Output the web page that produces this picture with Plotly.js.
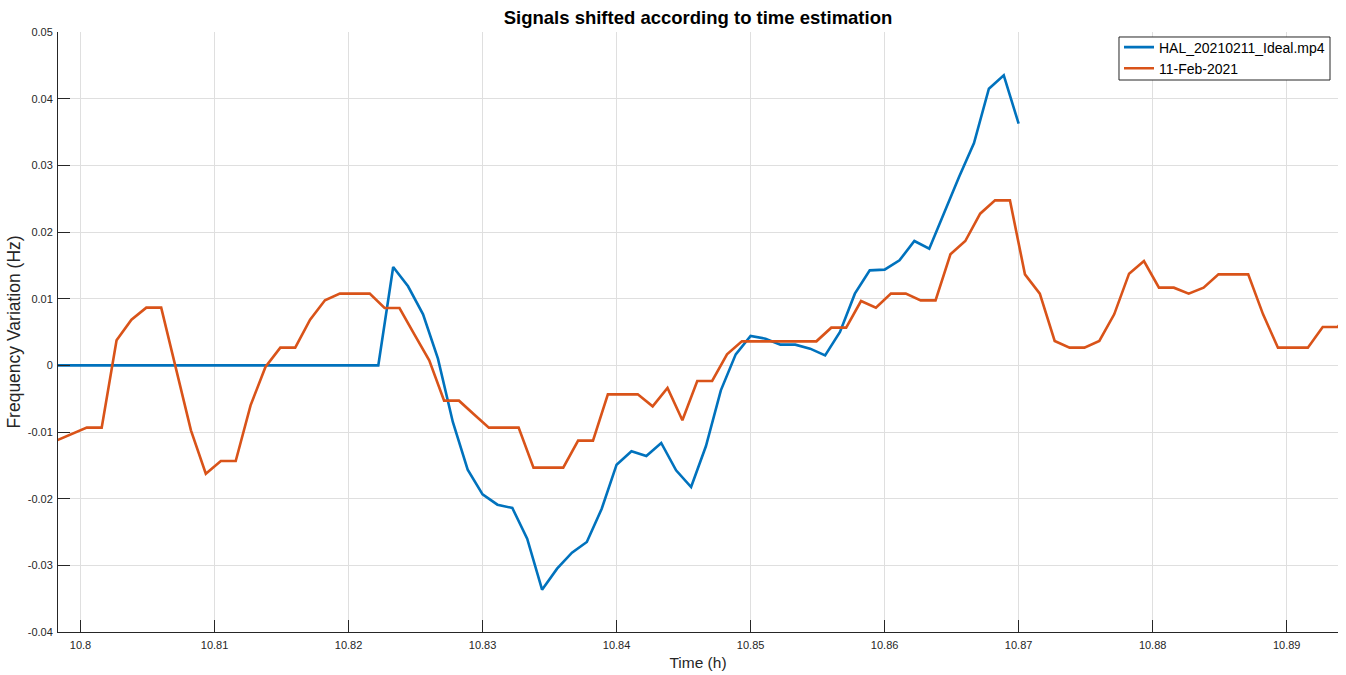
<!DOCTYPE html>
<html>
<head>
<meta charset="utf-8">
<script src="https://cdn.plot.ly/plotly-3.0.1.min.js"></script>
<style>
  html, body { margin: 0; padding: 0; background: #ffffff; }
  #chart { width: 1346px; height: 675px; }
</style>
</head>
<body>
<div id="chart"></div>
<script>
// Video-derived frequency estimate (HAL_20210211_Ideal.mp4), sampled every 4 s
const videoTime = [
  10.79778, 10.79889, 10.80000, 10.80111, 10.80222, 10.80333, 10.80444, 10.80556, 10.80667, 10.80778,
  10.80889, 10.81000, 10.81111, 10.81222, 10.81333, 10.81444, 10.81556, 10.81667, 10.81778, 10.81889,
  10.82000, 10.82111, 10.82222, 10.82333, 10.82444, 10.82556, 10.82667, 10.82778, 10.82889, 10.83000,
  10.83111, 10.83222, 10.83333, 10.83444, 10.83556, 10.83667, 10.83778, 10.83889, 10.84000, 10.84111,
  10.84222, 10.84333, 10.84444, 10.84556, 10.84667, 10.84778, 10.84889, 10.85000, 10.85111, 10.85222,
  10.85333, 10.85444, 10.85556, 10.85667, 10.85778, 10.85889, 10.86000, 10.86111, 10.86222, 10.86333,
  10.86444, 10.86556, 10.86667, 10.86778, 10.86889, 10.87000
];
const videoFreq = [
  0, 0, 0, 0, 0, 0, 0, 0, 0, 0,
  0, 0, 0, 0, 0, 0, 0, 0, 0, 0,
  0, 0, 0, 0.01475, 0.01185, 0.00765, 0.00100, -0.00850, -0.01565, -0.01935,
  -0.02090, -0.02140, -0.02600, -0.03365, -0.03050, -0.02810, -0.02650, -0.02150, -0.01490, -0.01290,
  -0.01360, -0.01165, -0.01575, -0.01825, -0.01210, -0.00375, 0.00165, 0.00440, 0.00400, 0.00310,
  0.00310, 0.00250, 0.00150, 0.00500, 0.01075, 0.01425, 0.01435, 0.01575, 0.01865, 0.01750,
  0.02290, 0.02830, 0.03335, 0.04150, 0.04350, 0.03625
];

// Grid reference measurement (11-Feb-2021), sampled every 4 s
const gridTime = [
  10.79824, 10.79935, 10.80047, 10.80158, 10.80269, 10.80380, 10.80491, 10.80602, 10.80713, 10.80824,
  10.80935, 10.81047, 10.81158, 10.81269, 10.81380, 10.81491, 10.81602, 10.81713, 10.81824, 10.81935,
  10.82047, 10.82158, 10.82269, 10.82380, 10.82491, 10.82602, 10.82713, 10.82824, 10.82935, 10.83047,
  10.83158, 10.83269, 10.83380, 10.83491, 10.83602, 10.83713, 10.83824, 10.83935, 10.84047, 10.84158,
  10.84269, 10.84380, 10.84491, 10.84602, 10.84713, 10.84824, 10.84935, 10.85047, 10.85158, 10.85269,
  10.85380, 10.85491, 10.85602, 10.85713, 10.85824, 10.85935, 10.86047, 10.86158, 10.86269, 10.86380,
  10.86491, 10.86602, 10.86713, 10.86824, 10.86935, 10.87047, 10.87158, 10.87269, 10.87380, 10.87491,
  10.87602, 10.87713, 10.87824, 10.87935, 10.88047, 10.88158, 10.88269, 10.88380, 10.88491, 10.88602,
  10.88713, 10.88824, 10.88935, 10.89047, 10.89158, 10.89269, 10.89380, 10.89491
];
const gridFreq = [
  -0.01125, -0.01030, -0.00935, -0.00935, 0.00375, 0.00685, 0.00865, 0.00865, -0.00050, -0.00975,
  -0.01625, -0.01435, -0.01435, -0.00600, -0.00025, 0.00265, 0.00265, 0.00685, 0.00975, 0.01075,
  0.01075, 0.01075, 0.00860, 0.00860, 0.00465, 0.00075, -0.00530, -0.00530, -0.00735, -0.00935,
  -0.00935, -0.00935, -0.01535, -0.01535, -0.01535, -0.01130, -0.01130, -0.00435, -0.00435, -0.00435,
  -0.00615, -0.00340, -0.00825, -0.00235, -0.00235, 0.00165, 0.00360, 0.00360, 0.00360, 0.00360,
  0.00360, 0.00360, 0.00565, 0.00565, 0.00965, 0.00865, 0.01075, 0.01075, 0.00975, 0.00975,
  0.01665, 0.01865, 0.02275, 0.02475, 0.02475, 0.01365, 0.01075, 0.00365, 0.00265, 0.00265,
  0.00365, 0.00765, 0.01375, 0.01565, 0.01165, 0.01165, 0.01075, 0.01165, 0.01365, 0.01365,
  0.01365, 0.00765, 0.00265, 0.00265, 0.00265, 0.00575, 0.00575, 0.00860
];

const seriesNames = ['HAL_20210211_Ideal.mp4', '11-Feb-2021'];

const xTicks = [10.80, 10.81, 10.82, 10.83, 10.84, 10.85, 10.86, 10.87, 10.88, 10.89];
const xTickText = ['10.8', '10.81', '10.82', '10.83', '10.84', '10.85', '10.86', '10.87', '10.88', '10.89'];
const yTicks = [-0.04, -0.03, -0.02, -0.01, 0, 0.01, 0.02, 0.03, 0.04, 0.05];
const yTickText = ['-0.04', '-0.03', '-0.02', '-0.01', '0', '0.01', '0.02', '0.03', '0.04', '0.05'];

const FONT = '"Liberation Sans", Arial, Helvetica, sans-serif';
const AXIS_COLOR = '#262626';
const GRID_COLOR = '#dfdfdf';

const traces = [
  {
    x: videoTime, y: videoFreq, type: 'scatter', mode: 'lines', name: seriesNames[0],
    line: { color: '#0072BD', width: 2.6 }
  },
  {
    x: gridTime, y: gridFreq, type: 'scatter', mode: 'lines', name: seriesNames[1],
    line: { color: '#D95319', width: 2.6 }
  }
];

const axisCommon = {
  showline: true, linecolor: AXIS_COLOR, linewidth: 1, mirror: false,
  ticks: 'inside', ticklen: 12, tickwidth: 1, tickcolor: AXIS_COLOR,
  showgrid: true, gridcolor: GRID_COLOR, gridwidth: 1, zeroline: false,
  tickfont: { family: FONT, size: 11, color: AXIS_COLOR },
  tickmode: 'array', fixedrange: true
};

const layout = {
  width: 1346, height: 675,
  paper_bgcolor: '#ffffff', plot_bgcolor: '#ffffff',
  margin: { l: 58, r: 8, t: 32, b: 43, pad: 0 },
  font: { family: FONT, color: AXIS_COLOR },
  title: {
    text: '<b>Signals shifted according to time estimation</b>',
    font: { family: FONT, size: 18.5, color: '#000000' },
    x: 0.5, xref: 'paper', xanchor: 'center',
    y: 1 - 18 / 675, yref: 'container', yanchor: 'middle'
  },
  xaxis: Object.assign({}, axisCommon, {
    range: [10.79832, 10.89383],
    tickvals: xTicks, ticktext: xTickText,
    ticklabelstandoff: 3,
    title: { text: 'Time (h)', font: { family: FONT, size: 15.5, color: AXIS_COLOR }, standoff: 6 }
  }),
  yaxis: Object.assign({}, axisCommon, {
    range: [-0.04, 0.05],
    tickvals: yTicks, ticktext: yTickText,
    ticklabelstandoff: 2,
    title: { text: 'Frequency Variation (Hz)', font: { family: FONT, size: 17.5, color: AXIS_COLOR }, standoff: 2 }
  }),
  // Legend frame: a tight white box with a dark outline behind the legend entries
  shapes: [{
    type: 'rect', xref: 'paper', yref: 'paper', layer: 'above',
    x0: 0.8289, x1: 0.99375, y0: 0.92, y1: 0.99167,
    fillcolor: '#ffffff', line: { color: AXIS_COLOR, width: 1 }
  }],
  showlegend: true,
  legend: {
    x: 0.99375, xanchor: 'right', xref: 'paper',
    y: 1.0008, yanchor: 'top', yref: 'paper',
    bgcolor: 'rgba(0,0,0,0)', borderwidth: 0,
    font: { family: FONT, size: 14, color: '#000000' },
    tracegroupgap: 0, itemwidth: 30
  }
};

Plotly.newPlot('chart', traces, layout, { staticPlot: true, displayModeBar: false });
</script>
</body>
</html>
